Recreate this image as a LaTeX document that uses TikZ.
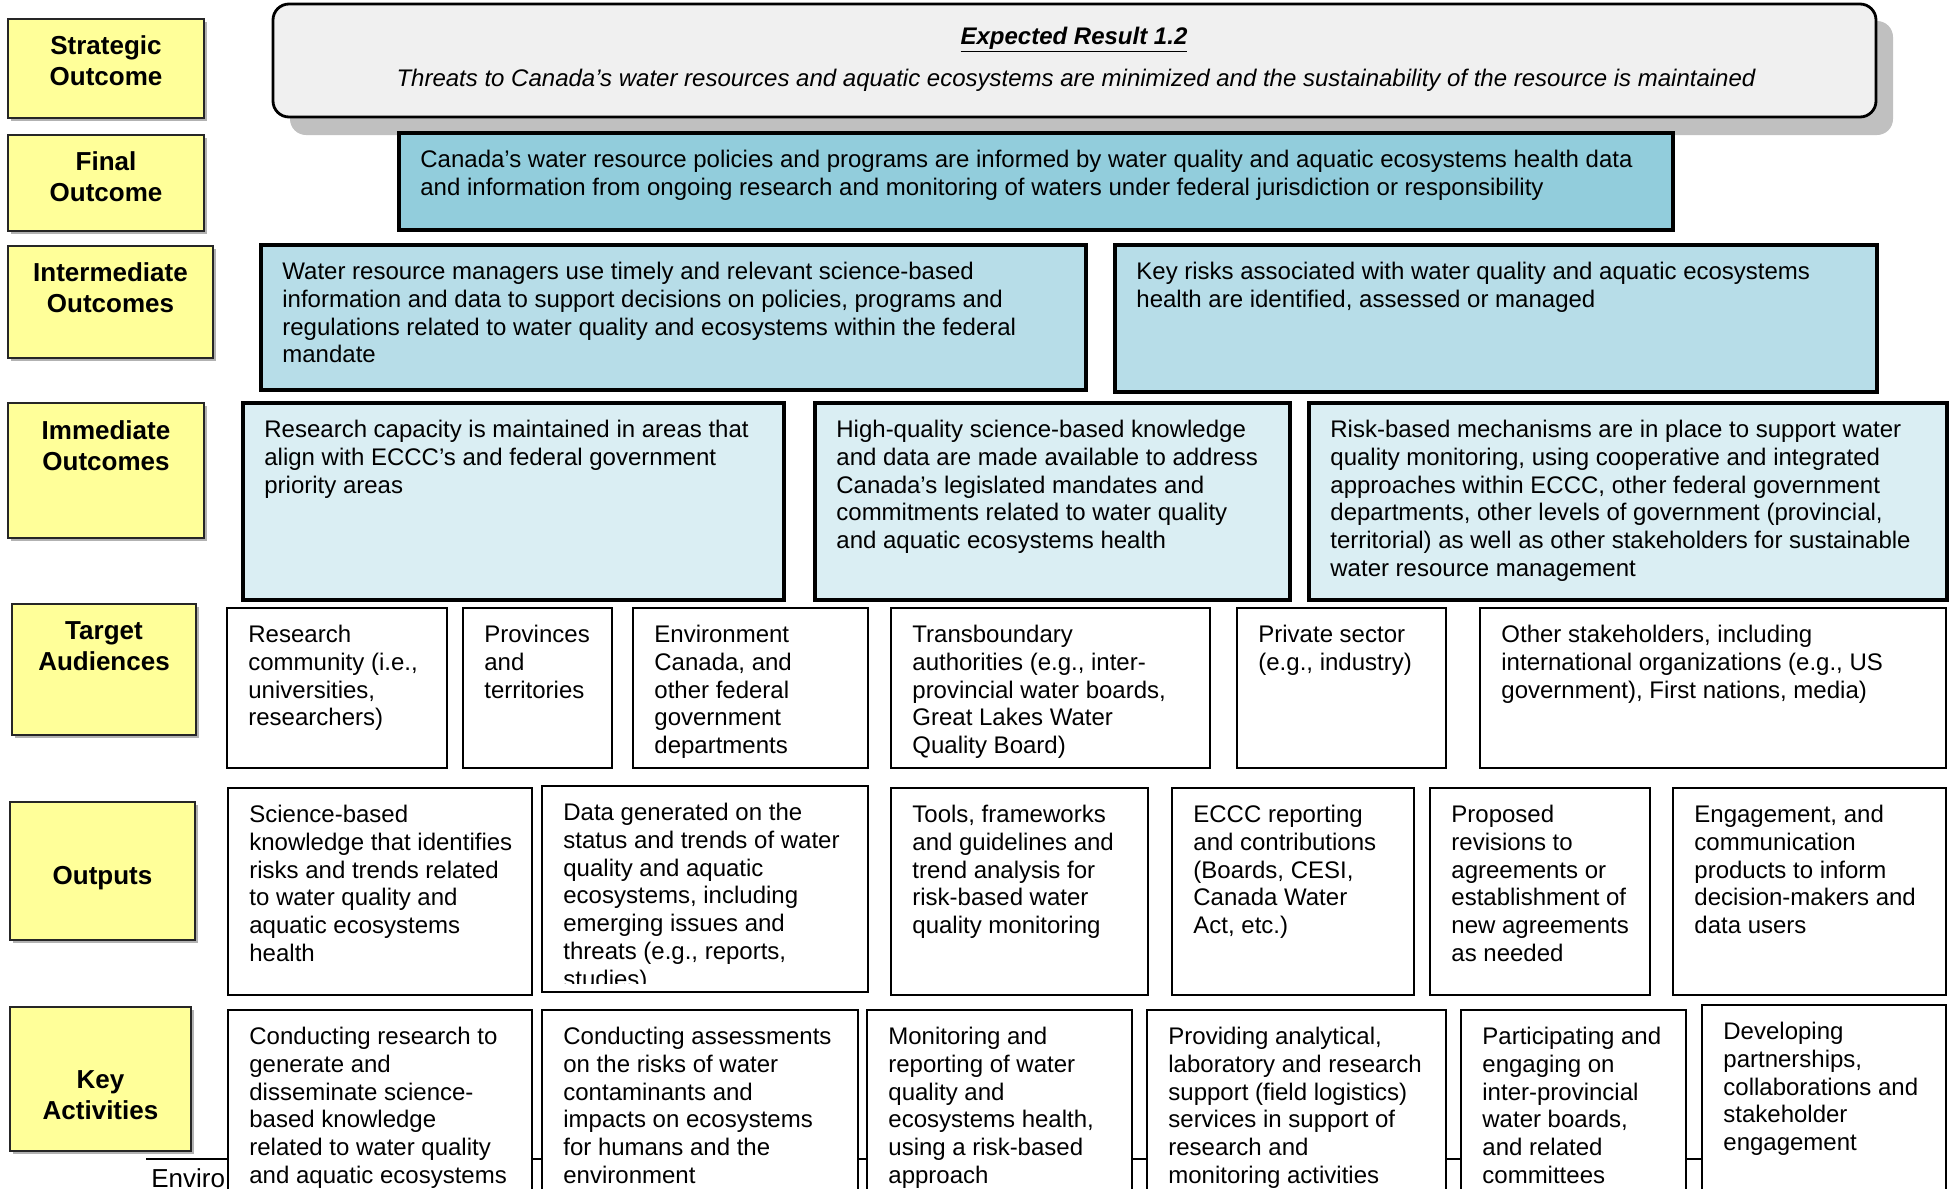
\documentclass[tikz,border=0pt]{standalone}
\usepackage{fontspec}
\setmainfont{Liberation Sans}
\definecolor{ylw}{HTML}{FFFF99}
\definecolor{finfill}{HTML}{92CDDC}
\definecolor{intfill}{HTML}{B7DDE8}
\definecolor{immfill}{HTML}{DAEEF3}
\definecolor{expfill}{HTML}{F0F0F0}
\definecolor{shad}{HTML}{C0C0C0}
\tikzset{
  basebox/.style={rectangle, anchor=north west, inner sep=0pt, outer sep=0pt},
  ybox/.style={basebox, draw=black!85, line width=1.2pt, fill=ylw},
  yshadow/.style={fill=black!30},
  ylab/.style={anchor=north, align=center, inner sep=0pt, font=\bfseries\fontsize{13}{15.5}\selectfont},
  expbox/.style={basebox, draw=black, line width=1.4pt, fill=expfill, rounded corners=8pt},
  finbox/.style={basebox, draw=black, line width=2.2pt, fill=finfill},
  intbox/.style={basebox, draw=black, line width=2.2pt, fill=intfill},
  immbox/.style={basebox, draw=black, line width=2.2pt, fill=immfill},
  whitebox/.style={basebox, draw=black, line width=1.1pt, fill=white},
  btext/.style={anchor=north west, align=left, inner sep=0pt, font=\fontsize{12}{13.9}\selectfont},
}
% name, x1, y1, x2, y2, first baseline, text
\newcommand\ylabelbox[7]{%
  \fill[yshadow] ({#2+3},{#3+3}) rectangle ({#4+3},{#5+3});
  \node[ybox, minimum width={(#4-#2)*0.5pt}, minimum height={(#5-#3)*0.5pt}] (#1) at (#2,#3) {};
  \node[ylab] (#1-t) at ({(#2+#4)/2},{#6-18.5}) {\rule{0pt}{10pt}#7};
}
% name, style, x1, y1, x2, y2, text
\newcommand\tbox[7]{%
  \node[#2, minimum width={(#5-#3)*0.5pt}, minimum height={(#6-#4)*0.5pt}] (#1) at (#3,#4) {};
  \node[btext] (#1-t) at ({#3+21},{#4+14}) {\rule{0pt}{10pt}#7};
}
\begin{document}
\begin{tikzpicture}[x=0.5pt,y=-0.5pt]
\path[use as bounding box] (0,0) rectangle (1950,1189);
\clip (0,0) rectangle (1950,1189);

% left labels
\ylabelbox{s1}{8}{19}{204}{118}{53}{Strategic\\Outcome}
\ylabelbox{s2}{8}{135}{204}{231}{169}{Final\\Outcome}
\ylabelbox{s3}{8}{246}{213}{358}{280}{Intermediate\\Outcomes}
\ylabelbox{s4}{8}{403}{204}{538}{438}{Immediate\\Outcomes}
\ylabelbox{s5}{12}{604}{196}{735}{638}{Target\\Audiences}
\ylabelbox{s6}{10}{802}{195}{940}{883}{Outputs}
\ylabelbox{s7}{10}{1007}{191}{1151}{1087}{Key\\Activities}

% expected result
\fill[shad, rounded corners=8pt] (290,21) rectangle (1893,135);
\node[expbox, minimum width={(1876-273)*0.5pt}, minimum height={(117-4)*0.5pt}] (er) at (273,4) {};
\node[anchor=base, inner sep=0pt, font=\bfseries\itshape\fontsize{12}{14}\selectfont] (er-title) at (1074,44) {\underline{Expected Result 1.2}};
\node[anchor=base, inner sep=0pt, font=\itshape\fontsize{12}{14}\selectfont] (er-text) at (1076,86) {Threats to Canada’s water resources and aquatic ecosystems are minimized and the sustainability of the resource is maintained};

% final outcome
\tbox{fin}{finbox}{399}{133}{1673}{230}{Canada’s water resource policies and programs are informed by water quality and aquatic ecosystems health data\\and information from ongoing research and monitoring of waters under federal jurisdiction or responsibility}

% intermediate outcomes
\tbox{io1}{intbox}{261}{245}{1086}{390}{Water resource managers use timely and relevant science-based\\information and data to support decisions on policies, programs and\\regulations related to water quality and ecosystems within the federal\\mandate}
\tbox{io2}{intbox}{1115}{245}{1877}{392}{Key risks associated with water quality and aquatic ecosystems\\health are identified, assessed or managed}

% immediate outcomes
\tbox{im1}{immbox}{243}{403}{784}{600}{Research capacity is maintained in areas that\\align with ECCC’s and federal government\\priority areas}
\tbox{im2}{immbox}{815}{403}{1290}{600}{High-quality science-based knowledge\\and data are made available to address\\Canada’s legislated mandates and\\commitments related to water quality\\and aquatic ecosystems health}
\tbox{im3}{immbox}{1309}{403}{1947}{600}{Risk-based mechanisms are in place to support water\\quality monitoring, using cooperative and integrated\\approaches within ECCC, other federal government\\departments, other levels of government (provincial,\\territorial) as well as other stakeholders for sustainable\\water resource management}

% target audiences
\tbox{ta1}{whitebox}{227}{608}{447}{768}{Research\\community (i.e.,\\universities,\\researchers)}
\tbox{ta2}{whitebox}{463}{608}{612}{768}{Provinces\\and\\territories}
\tbox{ta3}{whitebox}{633}{608}{868}{768}{Environment\\Canada, and\\other federal\\government\\departments}
\tbox{ta4}{whitebox}{891}{608}{1210}{768}{Transboundary\\authorities (e.g., inter-\\provincial water boards,\\Great Lakes Water\\Quality Board)}
\tbox{ta5}{whitebox}{1237}{608}{1446}{768}{Private sector\\(e.g., industry)}
\tbox{ta6}{whitebox}{1480}{608}{1946}{768}{Other stakeholders, including\\international organizations (e.g., US\\government), First nations, media)}

% outputs
\tbox{o1}{whitebox}{228}{788}{532}{995}{Science-based\\knowledge that identifies\\risks and trends related\\to water quality and\\aquatic ecosystems\\health}
\node[whitebox, minimum width={(868-542)*0.5pt}, minimum height={(992-786)*0.5pt}] (o2) at (542,786) {};
\begin{scope}
\clip (542,786) rectangle (868,983);
\node[btext] (o2-t) at (563,800) {\rule{0pt}{10pt}Data generated on the\\status and trends of water\\quality and aquatic\\ecosystems, including\\emerging issues and\\threats (e.g., reports,\\studies)};
\end{scope}
\tbox{o3}{whitebox}{891}{788}{1148}{995}{Tools, frameworks\\and guidelines and\\trend analysis for\\risk-based water\\quality monitoring}
\tbox{o4}{whitebox}{1172}{788}{1414}{995}{ECCC reporting\\and contributions\\(Boards, CESI,\\Canada Water\\Act, etc.)}
\tbox{o5}{whitebox}{1430}{788}{1650}{995}{Proposed\\revisions to\\agreements or\\establishment of\\new agreements\\as needed}
\tbox{o6}{whitebox}{1673}{788}{1946}{995}{Engagement, and\\communication\\products to inform\\decision-makers and\\data users}

% footer (partly hidden)
\coordinate (footL) at (146,1159);
\coordinate (footR) at (1702,1159);
\draw[line width=1pt] (footL) -- (footR);
\node[anchor=base west, inner sep=0pt, font=\fontsize{13}{15}\selectfont] (foot) at (151,1187) {Enviro};

% key activities
\tbox{ka1}{whitebox}{228}{1010}{532}{1240}{Conducting research to\\generate and\\disseminate science-\\based knowledge\\related to water quality\\and aquatic ecosystems}
\tbox{ka2}{whitebox}{542}{1010}{858}{1240}{Conducting assessments\\on the risks of water\\contaminants and\\impacts on ecosystems\\for humans and the\\environment}
\tbox{ka3}{whitebox}{867}{1010}{1132}{1240}{Monitoring and\\reporting of water\\quality and\\ecosystems health,\\using a risk-based\\approach}
\tbox{ka4}{whitebox}{1147}{1010}{1446}{1240}{Providing analytical,\\laboratory and research\\support (field logistics)\\services in support of\\research and\\monitoring activities}
\tbox{ka5}{whitebox}{1461}{1010}{1686}{1240}{Participating and\\engaging on\\inter-provincial\\water boards,\\and related\\committees}
\tbox{ka6}{whitebox}{1702}{1005}{1946}{1240}{Developing\\partnerships,\\collaborations and\\stakeholder\\engagement}
\end{tikzpicture}
\end{document}
